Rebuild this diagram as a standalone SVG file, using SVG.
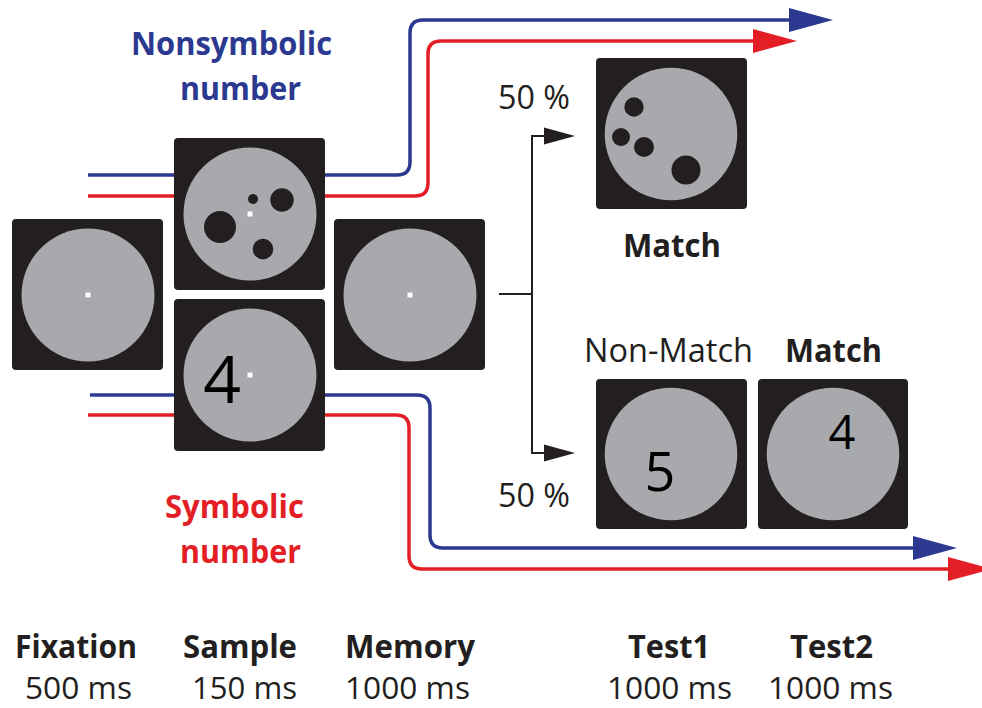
<svg xmlns="http://www.w3.org/2000/svg" width="982" height="708" viewBox="0 0 982 708">
<style>
.box{fill:#231f20}
.disc{fill:#a7a9ac}
.dot{fill:#231f20}
.fix{fill:#ffffff}
.t{font-family:"Open Sans","Liberation Sans",sans-serif;fill:#231f20}
.b{font-weight:bold}
.digit{fill:#000000}
.blue{stroke:#2b3990;stroke-width:3.5;fill:none}
.red{stroke:#e31e25;stroke-width:3.5;fill:none}
.blk{stroke:#231f20;stroke-width:2;fill:none}
</style>
<defs>
<marker id="ab" markerUnits="userSpaceOnUse" markerWidth="44" markerHeight="24" refX="0" refY="12" orient="auto" overflow="visible"><path d="M0,0 L44,12 L0,24 Z" fill="#2b3990"/></marker>
<marker id="ar" markerUnits="userSpaceOnUse" markerWidth="44" markerHeight="24" refX="0" refY="12" orient="auto" overflow="visible"><path d="M0,0 L44,12 L0,24 Z" fill="#e31e25"/></marker>
<marker id="ak" markerUnits="userSpaceOnUse" markerWidth="31" markerHeight="17" refX="0" refY="8.5" orient="auto" overflow="visible"><path d="M0,0 L31,8.5 L0,17 Z" fill="#231f20"/></marker>
</defs>

<g id="connectors">
<path class="blue" d="M88,175 H397 Q410,175 410,162 V33 Q410,20 423,20 H789" marker-end="url(#ab)"/>
<path class="red" d="M88,196 H415 Q428,196 428,183 V54 Q428,41 441,41 H753" marker-end="url(#ar)"/>
<path class="blue" d="M90,395 H417 Q430,395 430,408 V535 Q430,548 443,548 H913" marker-end="url(#ab)"/>
<path class="red" d="M88,415 H396 Q409,415 409,428 V556 Q409,569 422,569 H948" marker-end="url(#ar)"/>
<path class="blk" d="M499,294 H532"/>
<path class="blk" d="M532,135 V454"/>
<path class="blk" d="M531,136 H544" marker-end="url(#ak)"/>
<path class="blk" d="M531,453 H544" marker-end="url(#ak)"/>
</g>

<g id="fixation">
<rect class="box" x="12" y="219" width="151" height="151" rx="4"/>
<circle class="disc" cx="88" cy="295" r="66.5"/>
<rect class="fix" x="85.5" y="292.5" width="5" height="5"/>
</g>

<g id="sample-nonsymbolic">
<rect class="box" x="174" y="138" width="151" height="152" rx="4"/>
<circle class="disc" cx="250" cy="214" r="66.5"/>
<circle class="dot" cx="253" cy="199" r="5"/>
<circle class="dot" cx="282" cy="200" r="11.7"/>
<circle class="dot" cx="220" cy="227" r="16"/>
<circle class="dot" cx="263" cy="249" r="10.3"/>
<rect class="fix" x="247.5" y="211.5" width="5" height="5"/>
</g>

<g id="sample-symbolic">
<rect class="box" x="174" y="299" width="151" height="152" rx="4"/>
<circle class="disc" cx="250" cy="375" r="66.5"/>
<text class="t digit" x="222" y="403" font-size="66" text-anchor="middle">4</text>
<rect class="fix" x="247.5" y="372.5" width="5" height="5"/>
</g>

<g id="memory">
<rect class="box" x="334" y="219" width="151" height="151" rx="4"/>
<circle class="disc" cx="410" cy="295" r="66.5"/>
<rect class="fix" x="407.5" y="292.5" width="5" height="5"/>
</g>

<g id="test1-match">
<rect class="box" x="596" y="58" width="151" height="151" rx="4"/>
<circle class="disc" cx="671" cy="134" r="66.3"/>
<circle class="dot" cx="634" cy="107" r="9.7"/>
<circle class="dot" cx="621" cy="137" r="9"/>
<circle class="dot" cx="644" cy="147" r="10"/>
<circle class="dot" cx="686" cy="170" r="14.5"/>
</g>

<g id="test1-nonmatch">
<rect class="box" x="596" y="379" width="151" height="150" rx="4"/>
<circle class="disc" cx="671" cy="454" r="66.3"/>
<text class="t digit" x="660" y="491" font-size="54" text-anchor="middle">5</text>
</g>

<g id="test2-match">
<rect class="box" x="758" y="379" width="150" height="150" rx="4"/>
<circle class="disc" cx="833" cy="454" r="66.3"/>
<text class="t digit" x="842" y="449" font-size="47" text-anchor="middle">4</text>
</g>

<g id="labels">
<text class="t b" x="231.5" y="55" font-size="32" text-anchor="middle" style="fill:#2b3990" textLength="201" lengthAdjust="spacingAndGlyphs">Nonsymbolic</text>
<text class="t b" x="240.5" y="100" font-size="32" text-anchor="middle" style="fill:#2b3990" textLength="121" lengthAdjust="spacingAndGlyphs">number</text>
<text class="t b" x="234.5" y="518" font-size="32" text-anchor="middle" style="fill:#e31e25" textLength="139" lengthAdjust="spacingAndGlyphs">Symbolic</text>
<text class="t b" x="240.5" y="563" font-size="32" text-anchor="middle" style="fill:#e31e25" textLength="121" lengthAdjust="spacingAndGlyphs">number</text>
<text class="t" x="498" y="109" font-size="33" textLength="72" lengthAdjust="spacingAndGlyphs">50 %</text>
<text class="t" x="498" y="507" font-size="33" textLength="72" lengthAdjust="spacingAndGlyphs">50 %</text>
<text class="t b" x="672" y="257" font-size="33" text-anchor="middle" textLength="98" lengthAdjust="spacingAndGlyphs">Match</text>
<text class="t" x="584" y="362" font-size="32" textLength="169" lengthAdjust="spacingAndGlyphs">Non-Match</text>
<text class="t b" x="785" y="362" font-size="32" textLength="97" lengthAdjust="spacingAndGlyphs">Match</text>
<text class="t b" x="76" y="658" font-size="33" text-anchor="middle" textLength="122" lengthAdjust="spacingAndGlyphs">Fixation</text>
<text class="t b" x="240" y="658" font-size="33" text-anchor="middle" textLength="114" lengthAdjust="spacingAndGlyphs">Sample</text>
<text class="t b" x="410" y="658" font-size="33" text-anchor="middle" textLength="130" lengthAdjust="spacingAndGlyphs">Memory</text>
<text class="t b" x="669" y="658" font-size="33" text-anchor="middle" textLength="82" lengthAdjust="spacingAndGlyphs">Test1</text>
<text class="t b" x="831.5" y="658" font-size="33" text-anchor="middle" textLength="83" lengthAdjust="spacingAndGlyphs">Test2</text>
<text class="t" x="78.5" y="699" font-size="31" text-anchor="middle" textLength="107" lengthAdjust="spacingAndGlyphs">500 ms</text>
<text class="t" x="244.5" y="699" font-size="31" text-anchor="middle" textLength="105" lengthAdjust="spacingAndGlyphs">150 ms</text>
<text class="t" x="407.5" y="699" font-size="31" text-anchor="middle" textLength="125" lengthAdjust="spacingAndGlyphs">1000 ms</text>
<text class="t" x="669.5" y="699" font-size="31" text-anchor="middle" textLength="125" lengthAdjust="spacingAndGlyphs">1000 ms</text>
<text class="t" x="830.5" y="699" font-size="31" text-anchor="middle" textLength="125" lengthAdjust="spacingAndGlyphs">1000 ms</text>
</g>
</svg>
